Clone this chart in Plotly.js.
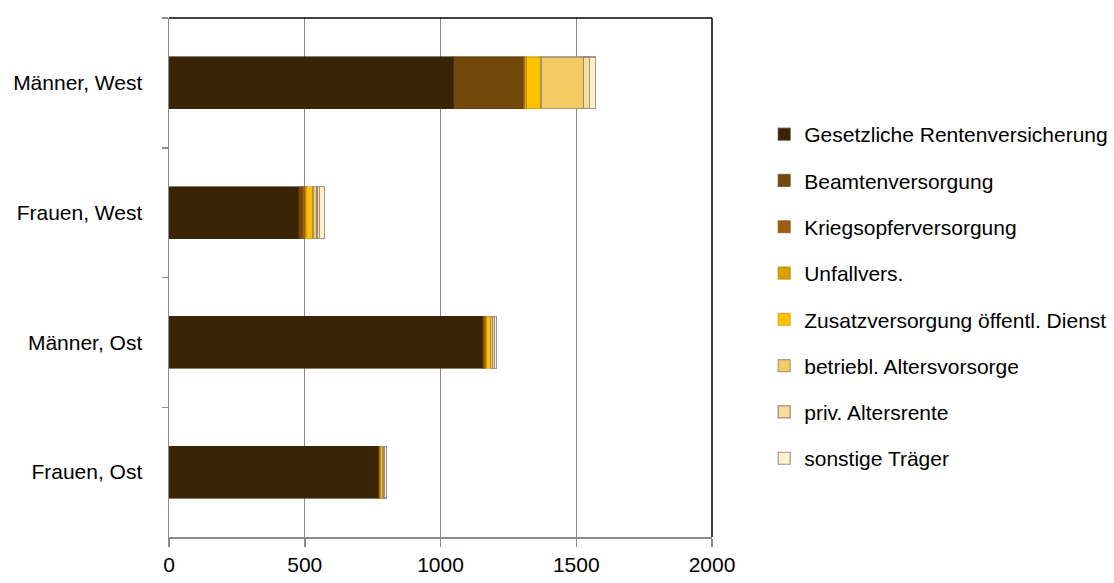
<!DOCTYPE html>
<html>
<head>
<meta charset="utf-8">
<script src="https://cdn.plot.ly/plotly-3.0.1.min.js"></script>
<style>html,body{margin:0;padding:0;background:#fff;}#chart{width:1114px;height:583px;}</style>
</head>
<body>
<div id="chart"></div>
<script>
var categories = ["Männer, West", "Frauen, West", "Männer, Ost", "Frauen, Ost"];
var seriesNames = ["Gesetzliche Rentenversicherung", "Beamtenversorgung", "Kriegsopferversorgung", "Unfallvers.", "Zusatzversorgung öffentl. Dienst", "betriebl. Altersvorsorge", "priv. Altersrente", "sonstige Träger"];
var gesetzliche = [1048, 478, 1155, 772];
var beamten = [255, 12, 3, 2];
var kriegsopfer = [7, 12, 8, 3];
var unfall = [8, 3, 4, 2];
var zusatz = [52, 25, 15, 8];
var betriebl = [156, 15, 7, 3];
var priv = [22, 8, 7, 5];
var sonstige = [24, 20, 8, 7];
var colors = ["#3b2406", "#734a0c", "#9e5e12", "#d9a300", "#ffc000", "#f2cc62", "#f7dc9c", "#fdf0cc"];
var borderColors = ["rgba(60,40,10,0.6)", "rgba(90,55,10,0.6)", "rgba(120,70,10,0.6)", "rgba(180,130,0,0.7)", "rgba(200,150,0,0.6)", "rgba(150,140,120,0.8)", "rgba(140,130,120,0.9)", "rgba(150,140,130,0.9)"];
var allValues = [gesetzliche, beamten, kriegsopfer, unfall, zusatz, betriebl, priv, sonstige];

var traces = allValues.map(function (vals, i) {
  return {
    type: "bar",
    orientation: "h",
    name: seriesNames[i],
    y: categories,
    x: vals,
    legendgroup: "g" + i,
    marker: { color: colors[i], line: { color: borderColors[i], width: 1.2 } },
    width: 0.4,
    hoverinfo: "x+name"
  };
});

var layout = {
  width: 1114,
  height: 583,
  barmode: "stack",
  paper_bgcolor: "#ffffff",
  plot_bgcolor: "#ffffff",
  margin: { l: 169, r: 402, t: 18, b: 46, autoexpand: false },
  font: { family: "Liberation Sans, Arial, sans-serif", size: 21, color: "#000" },
  showlegend: true,
  legend: {
    xref: "container",
    x: 0.686, xanchor: "left",
    y: 0.815, yanchor: "top",
    traceorder: "grouped",
    tracegroupgap: 16,
    font: { size: 21, family: "Liberation Sans, Arial, sans-serif" },
    itemwidth: 30
  },
  xaxis: {
    range: [0, 2000],
    tickvals: [0, 500, 1000, 1500, 2000],
    ticktext: ["0", "500", "1000", "1500", "2000"],
    showgrid: true,
    gridcolor: "#8c8c8c",
    gridwidth: 1.3,
    showline: true,
    linecolor: "#8c8c8c",
    linewidth: 1.5,
    ticks: "outside",
    ticklen: 8,
    tickcolor: "#8c8c8c",
    tickwidth: 1.5,
    zeroline: false,
    mirror: false,
    tickfont: { size: 21 },
    fixedrange: true
  },
  yaxis: {
    type: "category",
    autorange: "reversed",
    showgrid: false,
    showline: true,
    linecolor: "#8c8c8c",
    linewidth: 1.5,
    ticks: "outside",
    tickson: "boundaries",
    ticklen: 6,
    tickcolor: "#8c8c8c",
    tickwidth: 1.5,
    ticklabelstandoff: 21,
    tickfont: { size: 21 },
    zeroline: false,
    fixedrange: true
  },
  shapes: [
    { type: "line", xref: "paper", yref: "paper", x0: 0, x1: 1, y0: 1, y1: 1, line: { color: "#000", width: 1.5 } },
    { type: "line", xref: "paper", yref: "paper", x0: 1, x1: 1, y0: 0, y1: 1, line: { color: "#000", width: 1.5 } }
  ]
};

Plotly.newPlot("chart", traces, layout, { displayModeBar: false, staticPlot: true });
</script>
</body>
</html>
